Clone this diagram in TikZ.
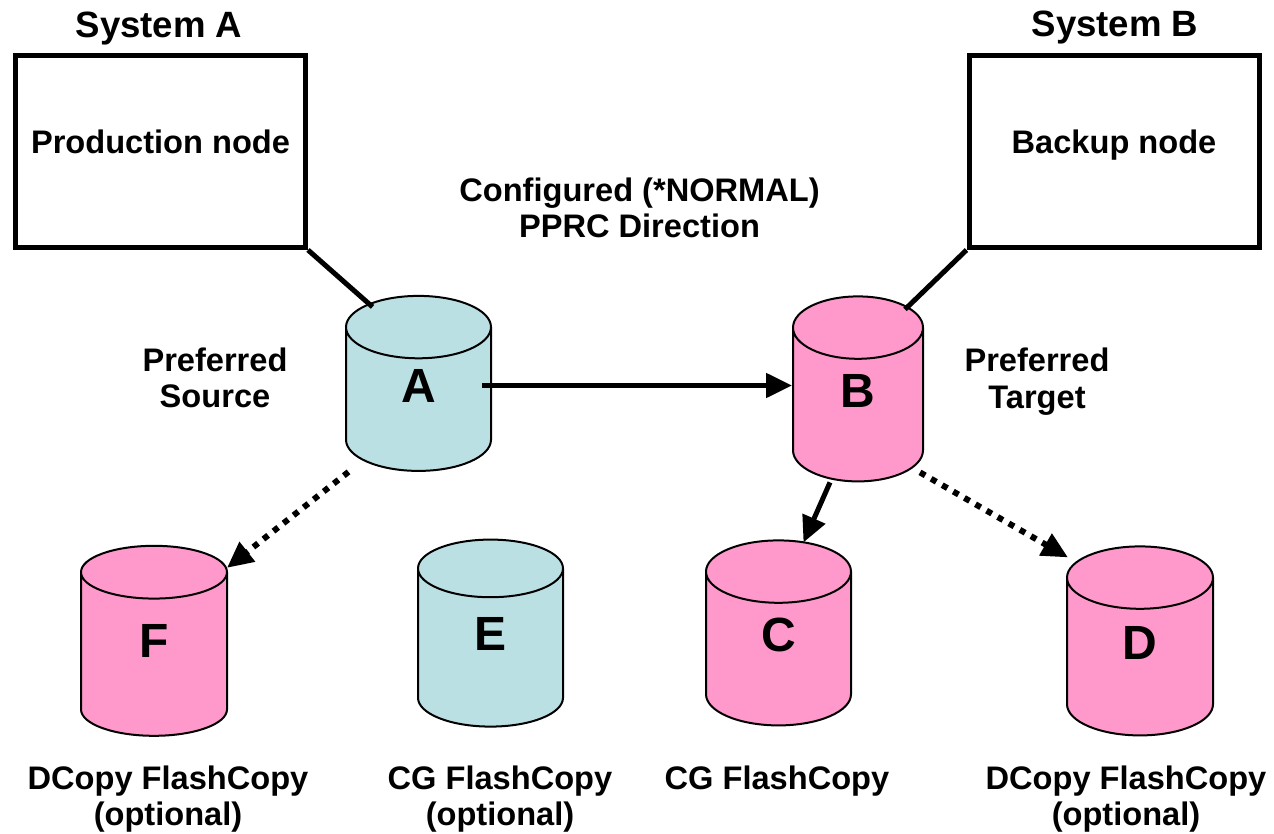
\documentclass[tikz,border=0pt]{standalone}
\usepackage{fontspec}
\setmainfont{Liberation Sans}
\usetikzlibrary{arrows.meta,shapes.geometric}
\definecolor{diskpink}{HTML}{FF99CC}
\definecolor{diskblue}{HTML}{BBE0E3}

\begin{document}
\begin{tikzpicture}[x=0.5pt,y=-0.5pt,>={Triangle[length=13pt,width=12pt]},
 font=\bfseries\fontsize{16.3}{18}\selectfont,
 every node/.style={inner sep=0pt},
 system/.style={anchor=base,font=\bfseries\fontsize{18.3}{20}\selectfont},
 sysbox/.style={draw,line width=2.5pt,minimum width=145pt,minimum height=96pt,text height=11.7pt,text depth=10pt},
 disk/.style={cylinder,shape border rotate=90,draw,line width=1pt,aspect=1.8,text depth=14pt,font=\bfseries\fontsize{24}{24}\selectfont},
 link/.style={line width=2.5pt},
 opt/.style={line width=3pt,dash pattern=on 3pt off 3.4pt,->}]
 \useasboundingbox (0,0) rectangle (1274,834);
 \node[sysbox] (prod) at (160.5,151.5) {Production node};
 \node[sysbox] (backup) at (1114,151.5) {Backup node};
 \node[system] (sysA) at (159,37.5) {System A};
 \node[system] (sysB) at (1115,37) {System B};
 \node[anchor=base,align=center] (dir) at (639.5,238) {Configured (*NORMAL)\\PPRC Direction};

 \node[disk,fill=diskblue,minimum width=72.5pt,minimum height=87.5pt] (A) at (418.5,399.5) {A};
 \node[disk,fill=diskpink,minimum width=65pt,minimum height=92.5pt] (B) at (858,405) {B};
 \node[disk,fill=diskpink,minimum width=73pt,minimum height=95pt] (F) at (154,654.5) {F};
 \node[disk,fill=diskblue,minimum width=72.5pt,minimum height=93.5pt] (E) at (490.5,648) {E};
 \node[disk,fill=diskpink,minimum width=72.5pt,minimum height=92.5pt] (C) at (778.5,649) {C};
 \node[disk,fill=diskpink,minimum width=73pt,minimum height=94.5pt] (D) at (1140,657) {D};

 \node[anchor=base,align=center] (src) at (215,407) {Preferred\\Source};
 \node[anchor=base,align=center] (tgt) at (1037,408) {Preferred\\Target};
 \node[anchor=base,align=center] (capF) at (168,825) {DCopy FlashCopy\\(optional)};
 \node[anchor=base,align=center] (capE) at (500,825) {CG FlashCopy\\(optional)};
 \node[anchor=base] (capC) at (777,789) {CG FlashCopy};
 \node[anchor=base,align=center] (capD) at (1126,825) {DCopy FlashCopy\\(optional)};

 \draw[link] (prod.south east) -- ([shift={(-46,12)}]A.north);
 \draw[link] (backup.south west) -- ([shift={(47,14)}]B.north);
 \draw[link,->] ([shift={(-10,-14)}]A.east) -- ([yshift=7pt]A.east -| B.west);
 \draw[link,->] ([shift={(-28,0)}]B.south) -- ([shift={(25,3)}]C.north);
 \draw[opt] ([shift={(-70,0)}]A.south) -- ([shift={(73,23)}]F.north);
 \draw[opt] ([shift={(62,-10)}]B.south) -- ([shift={(-72,12)}]D.north);
\end{tikzpicture}
\end{document}
